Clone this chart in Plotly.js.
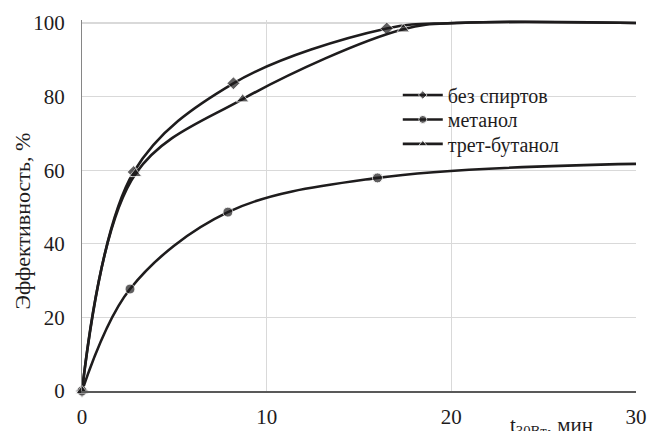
<!DOCTYPE html>
<html>
<head>
<meta charset="utf-8">
<script src="https://cdn.plot.ly/plotly-3.0.1.min.js"></script>
<style>
html,body{margin:0;padding:0;background:#fff;}
#chart{width:649px;height:431px;}
#chart svg text{font-family:'Liberation Serif', 'Times New Roman', serif !important;}
</style>
</head>
<body>
<div id="chart"></div>
<script>
// Data
const seriesNames = ['без спиртов', 'метанол', 'трет-бутанол'];
const xNoAlcohol = [0, 2.8, 8.2, 16.5, 20, 30];
const yNoAlcohol = [0, 59.5, 83.6, 98.5, 100, 100];
const xMethanol = [0, 2.6, 7.9, 16.0, 30];
const yMethanol = [0, 27.7, 48.6, 57.9, 61.7];
const xTertButanol = [0, 2.9, 8.7, 17.4, 20.5, 30];
const yTertButanol = [0, 59.0, 79.3, 98.3, 100, 100];
// which points carry a marker (the trailing ones are only part of the curve)
const markNoAlcohol = [1, 1, 1, 1, 0, 0];
const markMethanol = [1, 1, 1, 1, 0];
const markTertButanol = [1, 1, 1, 1, 0, 0];
const xTicks = [0, 10, 20, 30];
const yTicks = [0, 20, 40, 60, 80, 100];
const yTitle = 'Эффективность, %';
const xTitle = 't<sub>30Вт</sub>, мин';

const ink = '#1e1c1d';

function trace(name, x, y, mark, symbol, size, legendId) {
  return {
    type: 'scatter', mode: 'lines+markers', name: name, x: x, y: y,
    legend: legendId,
    line: {color: ink, width: 2.6, shape: 'spline', smoothing: 1},
    marker: {symbol: symbol, color: ink, size: mark.map(m => m ? size : 0)},
    cliponaxis: false
  };
}

const data = [
  trace(seriesNames[0], xNoAlcohol, yNoAlcohol, markNoAlcohol, 'diamond', 10, 'legend'),
  trace(seriesNames[1], xMethanol, yMethanol, markMethanol, 'circle', 10, 'legend2'),
  trace(seriesNames[2], xTertButanol, yTertButanol, markTertButanol, 'triangle-up', 11, 'legend3')
];

function legendAt(y) {
  return {
    x: 0.57, y: y, xanchor: 'left', yanchor: 'middle',
    bgcolor: 'rgba(0,0,0,0)', font: {size: 20, color: ink},
    itemwidth: 40
  };
}

const layout = {
  width: 649, height: 431,
  margin: {l: 82, r: 13, t: 20, b: 40, pad: 0},
  paper_bgcolor: '#ffffff', plot_bgcolor: '#ffffff',
  font: {family: 'Liberation Serif', size: 20, color: ink},
  showlegend: true,
  legend: legendAt(0.798),
  legend2: legendAt(0.732),
  legend3: legendAt(0.666),
  xaxis: {
    range: [0, 30], tickvals: xTicks, ticktext: xTicks.map(String),
    showgrid: true, gridcolor: '#d9d9d9', gridwidth: 1.2,
    zeroline: false, showline: true, linecolor: '#595959', linewidth: 2,
    ticks: '', ticklabelstandoff: 6,
    tickfont: {size: 21, color: ink}
  },
  yaxis: {
    range: [0, 100.8], tickvals: yTicks, ticktext: yTicks.map(String),
    showgrid: true, gridcolor: '#d9d9d9', gridwidth: 1.2,
    zeroline: false, showline: true, linecolor: '#868686', linewidth: 1,
    ticks: '', ticklabelstandoff: 12,
    tickfont: {size: 21, color: ink}
  },
  shapes: [{
    type: 'rect', xref: 'paper', yref: 'paper', layer: 'between',
    x0: 0.478, x1: 0.984, y0: 0.631, y1: 0.825,
    fillcolor: '#ffffff', line: {width: 0}
  }],
  annotations: [
    {text: yTitle, xref: 'paper', yref: 'paper', x: -0.108, y: 0.457,
     xanchor: 'center', yanchor: 'middle', textangle: -90, showarrow: false,
     font: {size: 22, color: ink}},
    {text: xTitle, xref: 'paper', yref: 'paper', x: 0.847, y: -0.094,
     xanchor: 'center', yanchor: 'middle', showarrow: false,
     font: {size: 21, color: ink}}
  ]
};

Plotly.newPlot('chart', data, layout, {displayModeBar: false, staticPlot: true}).then(function (gd) {
  gd.querySelectorAll('svg text').forEach(function (el) {
    el.style.setProperty('font-family', "'Liberation Serif', 'Times New Roman', serif", 'important');
  });
});
</script>
</body>
</html>
